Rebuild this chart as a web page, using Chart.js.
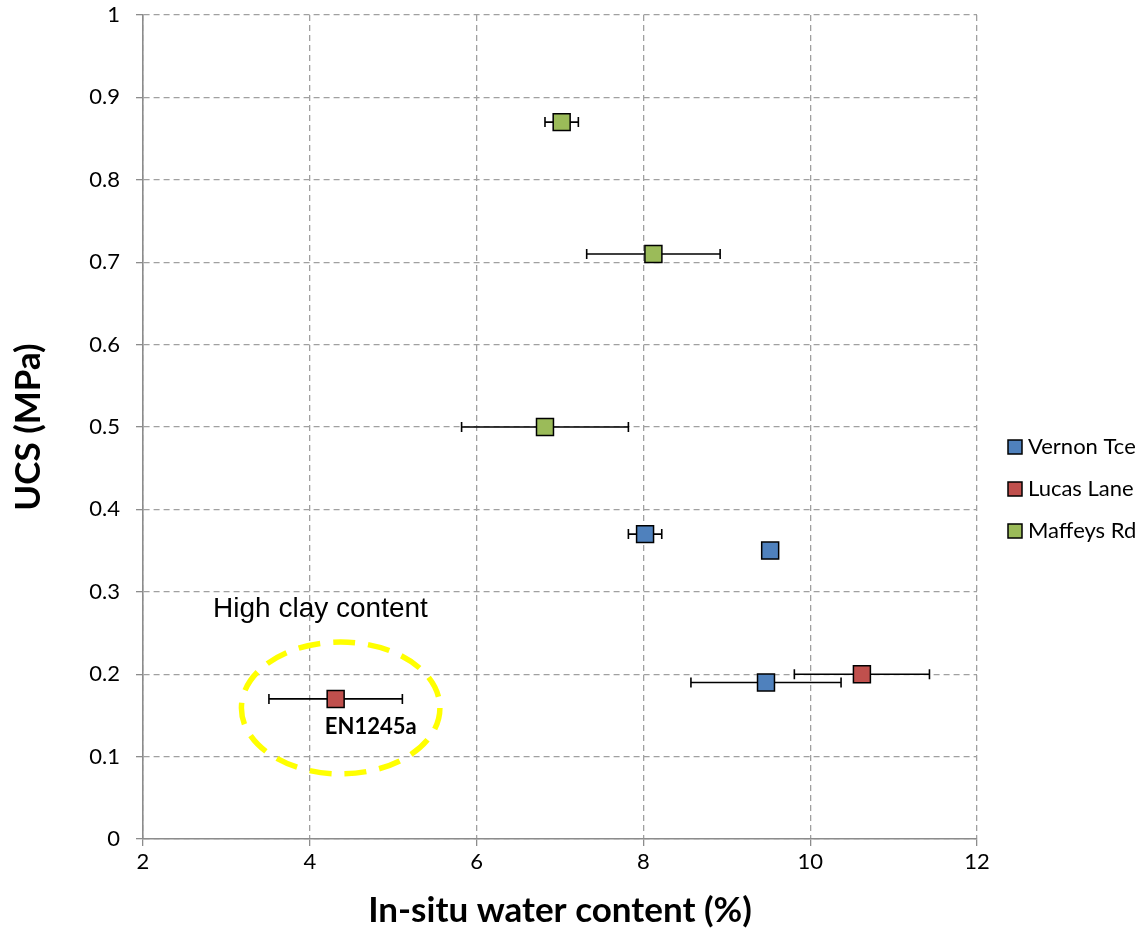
<!DOCTYPE html>
<html>
<head>
<meta charset="utf-8">
<script src="https://cdn.jsdelivr.net/npm/chart.js@4/dist/chart.umd.min.js"></script>
<style>
  html, body { margin: 0; padding: 0; background: #fff; }
  #wrap { width: 1144px; height: 933px; }
</style>
</head>
<body>
<div id="wrap"><canvas id="ucsChart" width="1144" height="933"></canvas></div>
<script>
// Values
const seriesNames = ['Vernon Tce', 'Lucas Lane', 'Maffeys Rd'];
const seriesColors = ['#4F81BD', '#C0504D', '#9BBB59'];

const vernonX = [8.02, 9.52, 9.47];
const vernonY = [0.37, 0.35, 0.19];
const vernonErr = [0.2, 0, 0.9];

const lucasX = [10.62, 4.31];
const lucasY = [0.20, 0.17];
const lucasErr = [0.81, 0.8];

const maffeysX = [7.02, 8.12, 6.82];
const maffeysY = [0.87, 0.71, 0.50];
const maffeysErr = [0.2, 0.8, 1.0];

const xTicks = [2, 4, 6, 8, 10, 12];
const yTicks = [0, 0.1, 0.2, 0.3, 0.4, 0.5, 0.6, 0.7, 0.8, 0.9, 1];
const yTickLabels = ['0', '0.1', '0.2', '0.3', '0.4', '0.5', '0.6', '0.7', '0.8', '0.9', '1'];

// annotation: circled sample
const noteText = 'High clay content';
const noteAt = { x: 2.84, y: 0.27 };
const sampleLabel = 'EN1245a';
const sampleLabelAt = { x: 4.73, y: 0.136 };
const ringAt = { x: 4.37, y: 0.159, rx: 1.19, ry: 0.08 };

function toPoints(xs, ys, errs) {
  return xs.map((x, i) => ({ x: x, y: ys[i], err: errs[i] }));
}

const allSeries = [
  toPoints(vernonX, vernonY, vernonErr),
  toPoints(lucasX, lucasY, lucasErr),
  toPoints(maffeysX, maffeysY, maffeysErr)
];

Chart.defaults.font.family = 'Lato, "DejaVu Sans", sans-serif';
Chart.defaults.color = '#000';

// horizontal error bars, drawn under the markers
const errorBars = {
  id: 'errorBars',
  beforeDatasetsDraw(chart) {
    const ctx = chart.ctx;
    const xs = chart.scales.x, ys = chart.scales.y;
    ctx.save();
    ctx.strokeStyle = '#000';
    ctx.lineWidth = 1.6;
    chart.data.datasets.forEach(ds => {
      ds.data.forEach(p => {
        if (!p.err) return;
        const x1 = xs.getPixelForValue(p.x - p.err);
        const x2 = xs.getPixelForValue(p.x + p.err);
        const y = ys.getPixelForValue(p.y);
        ctx.beginPath();
        ctx.moveTo(x1, y); ctx.lineTo(x2, y);
        ctx.moveTo(x1, y - 5); ctx.lineTo(x1, y + 5);
        ctx.moveTo(x2, y - 5); ctx.lineTo(x2, y + 5);
        ctx.stroke();
      });
    });
    ctx.restore();
  }
};

// ring + notes
const notes = {
  id: 'notes',
  beforeDatasetsDraw(chart) {
    const ctx = chart.ctx;
    const xs = chart.scales.x, ys = chart.scales.y;
    const cx = xs.getPixelForValue(ringAt.x);
    const cy = ys.getPixelForValue(ringAt.y);
    const rx = xs.getPixelForValue(ringAt.x + ringAt.rx) - cx;
    const ry = cy - ys.getPixelForValue(ringAt.y + ringAt.ry);
    ctx.save();
    ctx.strokeStyle = '#ffff00';
    ctx.lineWidth = 5.5;
    ctx.setLineDash([22, 13]);
    ctx.beginPath();
    ctx.ellipse(cx, cy, rx, ry, 0, 0, Math.PI * 2);
    ctx.stroke();
    ctx.setLineDash([]);

    ctx.fillStyle = '#000';
    ctx.font = '28px "Liberation Sans", Arial, sans-serif';
    ctx.textAlign = 'left';
    ctx.textBaseline = 'alphabetic';
    ctx.fillText(noteText, xs.getPixelForValue(noteAt.x), ys.getPixelForValue(noteAt.y));

    ctx.font = 'bold 22px Lato, sans-serif';
    ctx.textAlign = 'center';
    ctx.textBaseline = 'middle';
    ctx.fillText(sampleLabel, xs.getPixelForValue(sampleLabelAt.x), ys.getPixelForValue(sampleLabelAt.y));
    ctx.restore();
  }
};

// legend at the right, built from the datasets
const sideLegend = {
  id: 'sideLegend',
  afterDraw(chart) {
    const ctx = chart.ctx;
    const left = chart.chartArea.right + 31;
    const top = chart.chartArea.top + 432;
    ctx.save();
    ctx.font = '22px Lato, sans-serif';
    ctx.textBaseline = 'middle';
    ctx.textAlign = 'left';
    chart.data.datasets.forEach((ds, i) => {
      const y = top + i * 42;
      ctx.fillStyle = ds.backgroundColor;
      ctx.fillRect(left, y - 7, 14, 14);
      ctx.strokeStyle = '#000';
      ctx.lineWidth = 1.5;
      ctx.strokeRect(left, y - 7, 14, 14);
      ctx.fillStyle = '#000';
      ctx.fillText(ds.label, left + 20, y);
    });
    ctx.restore();
  }
};

new Chart(document.getElementById('ucsChart').getContext('2d'), {
  type: 'scatter',
  data: {
    datasets: allSeries.map((pts, i) => ({
      label: seriesNames[i],
      data: pts,
      backgroundColor: seriesColors[i],
      borderColor: '#000',
      borderWidth: 1.5,
      pointStyle: 'rect',
      pointRadius: 12,
      pointHoverRadius: 12
    }))
  },
  options: {
    responsive: false,
    animation: false,
    layout: { padding: { left: 0, top: 15, right: 167, bottom: 0 } },
    plugins: {
      legend: { display: false },
      tooltip: { enabled: false }
    },
    scales: {
      x: {
        type: 'linear',
        min: 2, max: 12,
        afterBuildTicks: s => { s.ticks = xTicks.map(v => ({ value: v })); },
        afterFit: s => { s.height = 94; s.paddingLeft = 0; s.paddingRight = 0; },
        ticks: { font: { size: 22 }, padding: 3, color: '#000', callback: v => String(v) },
        grid: { color: '#a0a0a0', lineWidth: 1.3, tickLength: 7, tickColor: '#8c8c8c' },
        border: { color: '#8c8c8c', width: 1.6, dash: [6, 4] },
        title: {
          display: true,
          text: 'In-situ water content (%)',
          font: { size: 35, weight: 'bold' },
          color: '#000',
          padding: { top: 0, bottom: 1 }
        }
      },
      y: {
        type: 'linear',
        min: 0, max: 1,
        afterBuildTicks: s => { s.ticks = yTicks.map(v => ({ value: v })); },
        afterFit: s => { s.width = 143; s.paddingTop = 0; s.paddingBottom = 0; },
        ticks: { font: { size: 22 }, padding: 16, color: '#000', callback: (v, i) => yTickLabels[i] },
        grid: { color: '#a0a0a0', lineWidth: 1.3, tickLength: 7, tickColor: '#8c8c8c' },
        border: { color: '#8c8c8c', width: 1.6, dash: [6, 4] },
        title: {
          display: true,
          text: 'UCS (MPa)',
          font: { size: 35, weight: 'bold' },
          color: '#000',
          padding: { top: 8, bottom: 0 }
        }
      }
    }
  },
  plugins: [notes, errorBars, sideLegend]
});
</script>
</body>
</html>
